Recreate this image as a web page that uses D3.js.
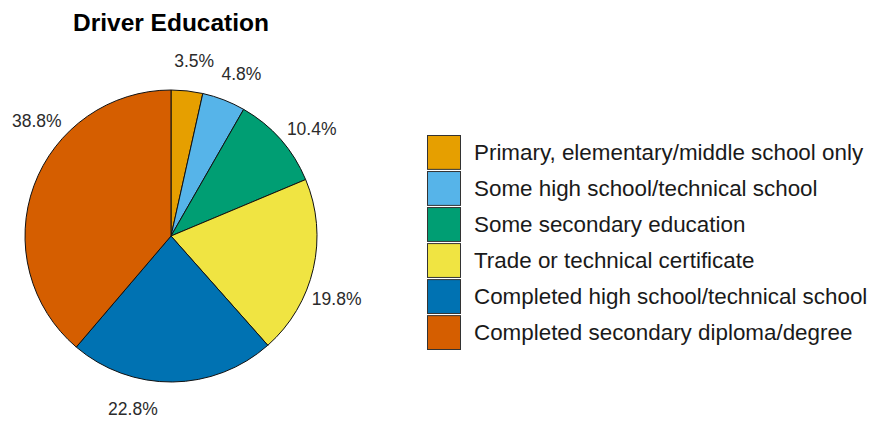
<!DOCTYPE html>
<html>
<head>
<meta charset="utf-8">
<script src="https://cdn.jsdelivr.net/npm/d3@7"></script>
<style>
  body { margin: 0; background: #fff; }
  text { font-family: "Liberation Sans", Arial, sans-serif; }
</style>
</head>
<body>
<div id="app"></div>
<script>
// data
const categories = [
  "Primary, elementary/middle school only",
  "Some high school/technical school",
  "Some secondary education",
  "Trade or technical certificate",
  "Completed high school/technical school",
  "Completed secondary diploma/degree"
];
const percents = [3.5, 4.8, 10.4, 19.8, 22.8, 38.8];
const colours = ["#E69F00", "#56B4E9", "#009E73", "#F0E442", "#0072B2", "#D55E00"];

const width = 871;
const height = 423;
const cx = 171;
const cy = 236;
const radius = 146;

const svg = d3.select("#app").append("svg").attr("width", width).attr("height", height);

const colour = d3.scaleOrdinal().domain(categories).range(colours);

const data = categories.map((c, i) => ({ cat: c, pct: percents[i] }));

// PIE, clockwise from 12 o'clock
const pie = d3.pie().value(d => d.pct).sort(null);
const arcs = pie(data);
const arc = d3.arc().innerRadius(0).outerRadius(radius);

const g = svg.append("g").attr("transform", `translate(${cx},${cy})`);

g.selectAll("path")
  .data(arcs)
  .join("path")
  .attr("d", arc)
  .attr("fill", d => colour(d.data.cat))
  .attr("stroke", "#111")
  .attr("stroke-width", 1);

// labels sit outside the pie, drifting a bit clockwise like in the original
const labelR = 177;
const labelAngle = d3.scaleLinear().domain([0, 2 * Math.PI]).range([0.014, 2 * Math.PI * 1.07]);

g.selectAll(".pct")
  .data(arcs)
  .join("text")
  .attr("class", "pct")
  .attr("x", d => labelR * Math.sin(labelAngle((d.startAngle + d.endAngle) / 2)))
  .attr("y", d => -labelR * Math.cos(labelAngle((d.startAngle + d.endAngle) / 2)))
  .attr("text-anchor", "middle")
  .attr("dy", "0.36em")
  .style("font-size", "17.5px")
  .style("fill", "#2b2b2b")
  .text(d => d.data.pct.toFixed(1) + "%");

// TITLE
svg.append("text")
  .attr("x", cx)
  .attr("y", 31)
  .attr("text-anchor", "middle")
  .style("font-size", "24.5px")
  .style("font-weight", "bold")
  .style("fill", "#000")
  .text("Driver Education");

// LEGEND
const row = d3.scaleBand().domain(categories).range([135, 349]).paddingInner(0.06);

const legend = svg.append("g");
const items = legend.selectAll("g").data(categories).join("g")
  .attr("transform", d => `translate(0,${row(d)})`);

items.append("rect")
  .attr("x", 427.5)
  .attr("y", 0.5)
  .attr("width", 33)
  .attr("height", row.bandwidth())
  .attr("fill", d => colour(d))
  .attr("stroke", "#333")
  .attr("stroke-width", 1);

items.append("text")
  .attr("x", 474)
  .attr("y", row.bandwidth() / 2)
  .attr("dy", "0.36em")
  .style("font-size", "22.4px")
  .style("fill", "#1a1a1a")
  .text(d => d);
</script>
</body>
</html>
